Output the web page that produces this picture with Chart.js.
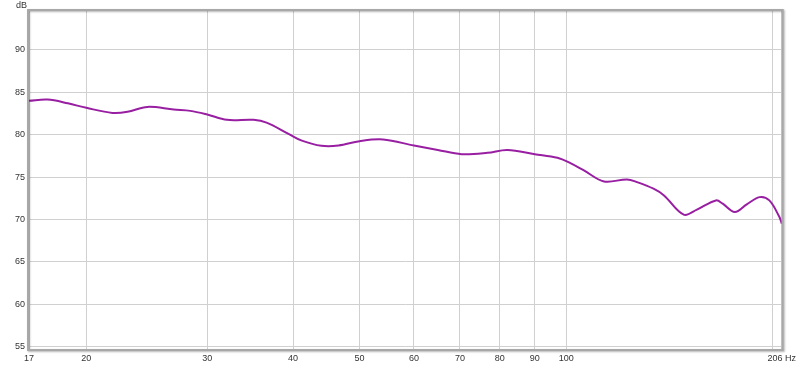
<!DOCTYPE html>
<html>
<head>
<meta charset="utf-8">
<script src="https://cdn.jsdelivr.net/npm/chart.js@4/dist/chart.umd.min.js"></script>
<style>
  html, body { margin: 0; padding: 0; background: #fff; }
  #wrap { width: 800px; height: 367px; }
</style>
</head>
<body>
<div id="wrap"><canvas id="chart" width="800" height="367"></canvas></div>
<script>
// Frequenze (Hz) e livelli (dB)
const freqs = [16.5, 17.56, 18.8, 20, 21.83, 22.96, 24.54, 26.82, 28.35, 30, 32.05, 35.04, 36.6, 39.4, 41.2, 44.0, 46.6, 50, 54.1, 60, 65, 70.4, 76.8, 82.1, 90, 97.1, 101.4, 106.1, 113.5, 122.6, 126.8, 134.0, 138.8, 148.3, 155, 165.2, 169, 176, 183.2, 191.2, 197.6, 204.4, 206];
const levels = [84.0, 84.14, 83.7, 83.17, 82.57, 82.7, 83.28, 82.96, 82.81, 82.38, 81.75, 81.75, 81.43, 80.1, 79.3, 78.69, 78.72, 79.23, 79.43, 78.72, 78.2, 77.7, 77.86, 78.2, 77.7, 77.27, 76.64, 75.78, 74.48, 74.72, 74.4, 73.62, 72.83, 70.56, 71.15, 72.24, 71.85, 70.86, 71.77, 72.63, 72.24, 70.28, 69.5];

// Tacche degli assi
const xTickValues = [16.5, 20, 30, 40, 50, 60, 70, 80, 90, 100, 200, 206];
const xTickLabels = ['17', '20', '30', '40', '50', '60', '70', '80', '90', '100', '', '206 Hz'];
const yTickValues = [55, 60, 65, 70, 75, 80, 85, 90];

// Bordo del grafico con ombra e etichetta "dB"
const frame = {
    id: 'frame',
    afterDraw(chart) {
        const { ctx, chartArea: a } = chart;
        ctx.save();
        ctx.shadowColor = 'rgba(0,0,0,0.3)';
        ctx.shadowBlur = 2;
        ctx.shadowOffsetX = 1;
        ctx.shadowOffsetY = 1;
        ctx.strokeStyle = '#a8a8a8';
        ctx.lineWidth = 2;
        ctx.strokeRect(a.left - 1, a.top - 1, a.right - a.left + 2, a.bottom - a.top + 2);
        ctx.restore();
        ctx.save();
        ctx.fillStyle = '#333';
        ctx.font = '9px "Liberation Sans", Arial, sans-serif';
        ctx.textAlign = 'left';
        ctx.textBaseline = 'alphabetic';
        ctx.fillText('dB', 16, 8);
        ctx.restore();
    }
};

const ctx = document.getElementById('chart').getContext('2d');
new Chart(ctx, {
    type: 'line',
    data: {
        datasets: [{
            data: freqs.map((f, i) => ({ x: f, y: levels[i] })),
            borderColor: 'rgb(152, 30, 162)',
            borderWidth: 2,
            pointRadius: 0,
            fill: false,
            tension: 0.35
        }]
    },
    options: {
        responsive: false,
        animation: false,
        layout: { padding: { top: 11, right: 14, left: 0, bottom: 0 } },
        plugins: { legend: { display: false }, tooltip: { enabled: false } },
        scales: {
            x: {
                type: 'logarithmic',
                min: 16.5,
                max: 206,
                afterBuildTicks: s => { s.ticks = xTickValues.map(v => ({ value: v })); },
                afterFit: s => { s.height = 18; },
                grid: { color: '#d0d0d0', lineWidth: 1, drawTicks: false },
                border: { display: false },
                ticks: {
                    autoSkip: false,
                    maxRotation: 0,
                    padding: 4,
                    color: '#333',
                    font: { family: '"Liberation Sans", Arial, sans-serif', size: 9 },
                    callback: (v, i) => xTickLabels[i]
                }
            },
            y: {
                min: 54.7,
                max: 94.6,
                afterBuildTicks: s => { s.ticks = yTickValues.map(v => ({ value: v })); },
                afterFit: s => { s.width = 29; },
                grid: { color: '#d0d0d0', lineWidth: 1, drawTicks: false },
                border: { display: false },
                ticks: {
                    padding: 4,
                    color: '#333',
                    font: { family: '"Liberation Sans", Arial, sans-serif', size: 9 }
                }
            }
        }
    },
    plugins: [frame]
});
</script>
</body>
</html>
